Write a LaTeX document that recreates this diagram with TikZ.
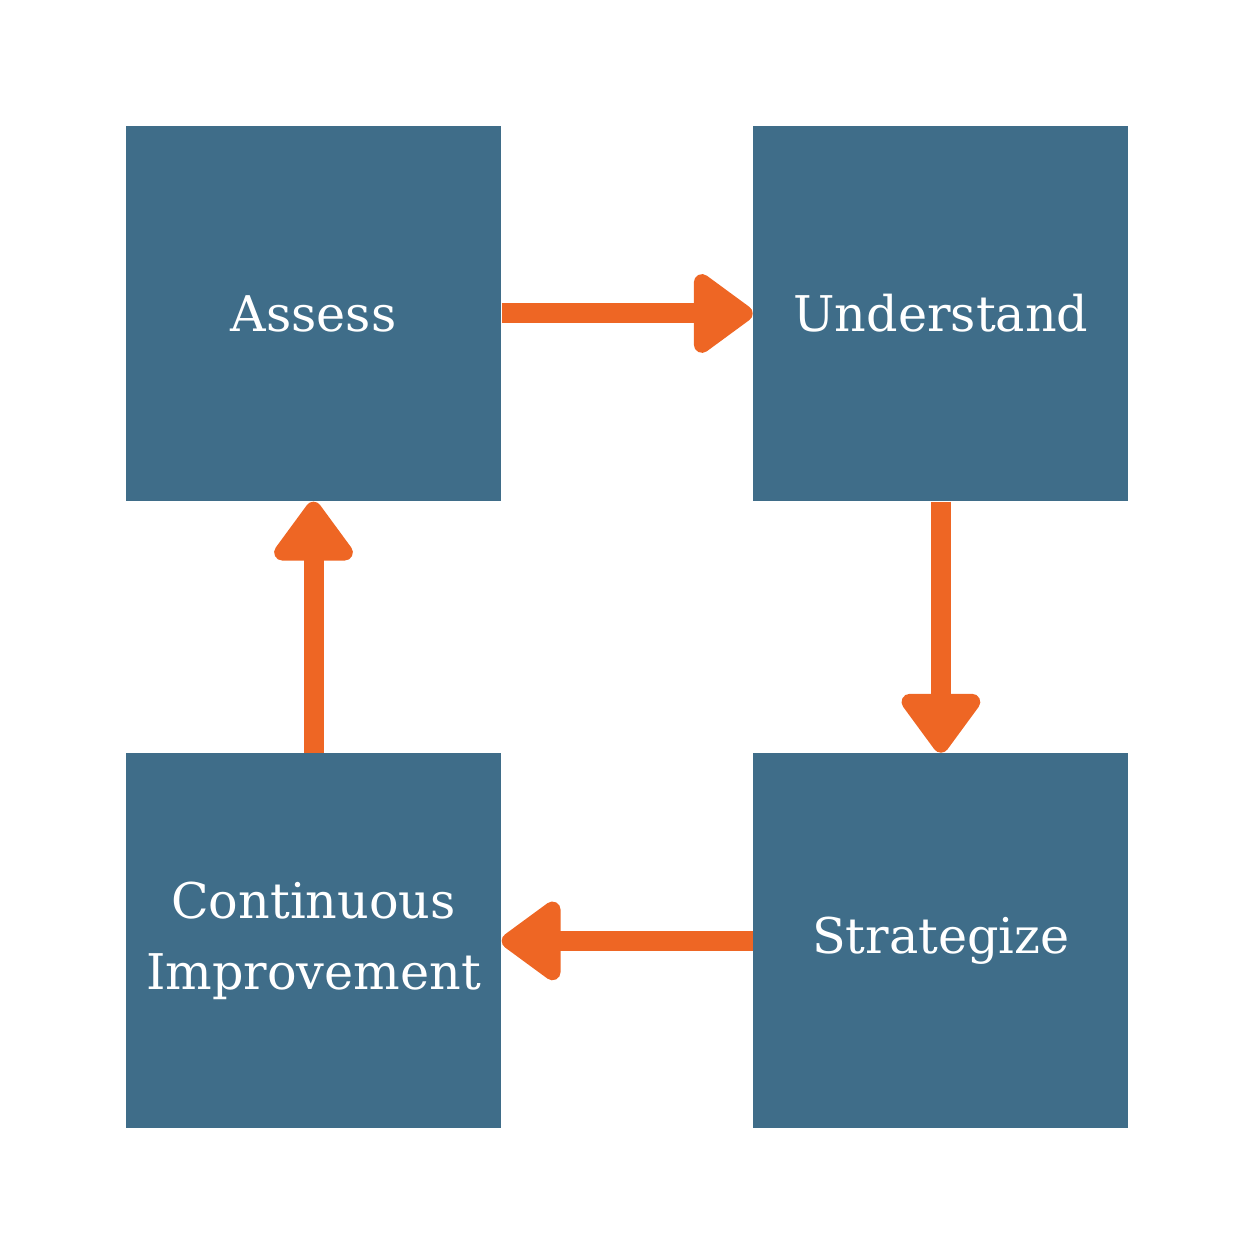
\documentclass[tikz,border=0pt]{standalone}
\usepackage{fontspec}
\setmainfont{DejaVu Serif}
\usetikzlibrary{positioning,arrows.meta}
\definecolor{boxblue}{HTML}{3F6D89}
\definecolor{arroworange}{HTML}{EE6624}
\begin{document}
\begin{tikzpicture}[
  stage/.style={fill=boxblue,minimum size=3.75cm,inner sep=0pt,text=white,
    font=\fontsize{14}{20}\selectfont,align=center},
  flow/.style={draw=arroworange,line width=0.2cm,
    -{Triangle[width=0.9cm,length=0.65cm,round]}}]
\useasboundingbox (0,0) rectangle (12.54,12.54);
%
\node[stage] (assess) at (3.135,9.405) {Assess};
\node[stage,right=2.51cm of assess] (understand) {Understand};
\node[stage,below=2.51cm of understand] (strategize) {Strategize};
\node[stage,left=2.51cm of strategize] (improve) {Continuous\\Improvement};
%
\draw[flow] (assess) -- (understand);
\draw[flow] (understand) -- (strategize);
\draw[flow] (strategize) -- (improve);
\draw[flow] (improve) -- (assess);
\end{tikzpicture}
\end{document}
